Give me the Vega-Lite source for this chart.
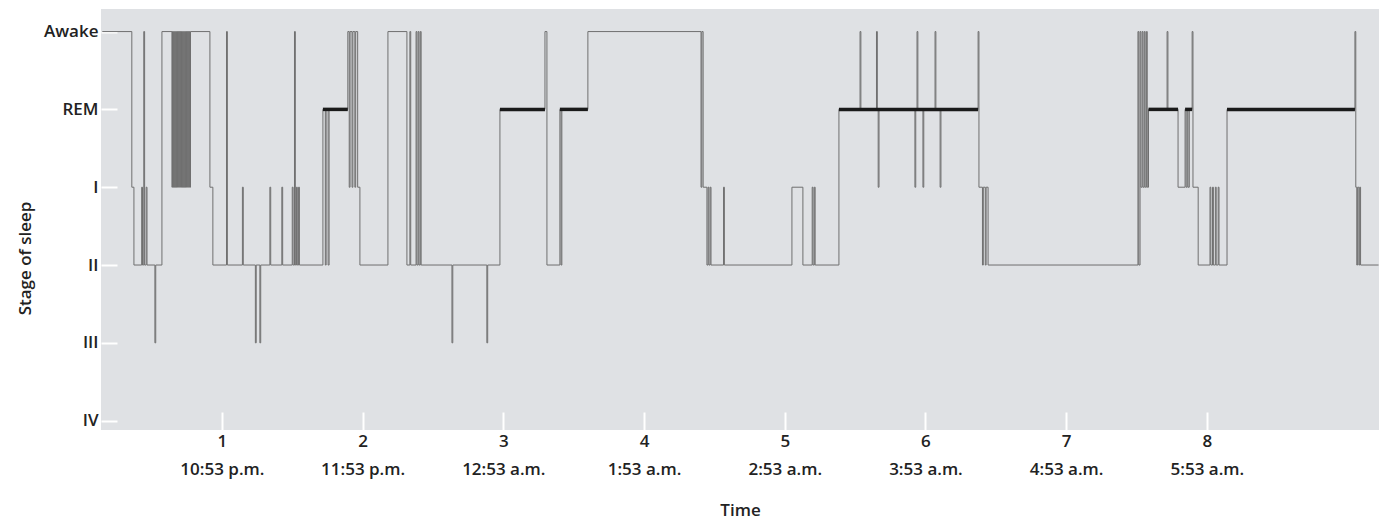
{
  "$schema": "https://vega.github.io/schema/vega-lite/v6.json",
  "width": 1278,
  "height": 421,
  "autosize": {"type": "none"},
  "padding": {"left": 101, "top": 9, "right": 2, "bottom": 91},
  "background": "white",
  "config": {"view": {"fill": "#dfe1e4", "stroke": null}, "font": "Open Sans"},
  "datasets": {
    "hyp": [
      {"t":0.150,"stage":5},{"t":0.360,"stage":3},{"t":0.375,"stage":2},{"t":0.430,"stage":3},{"t":0.436,"stage":2},{"t":0.445,"stage":5},{"t":0.451,"stage":2},{"t":0.462,"stage":3},{"t":0.468,"stage":2},{"t":0.524,"stage":1},{"t":0.530,"stage":2},{"t":0.574,"stage":5},
      {"t":0.645,"stage":3},{"t":0.649,"stage":5},{"t":0.653,"stage":3},{"t":0.657,"stage":5},{"t":0.661,"stage":3},{"t":0.665,"stage":5},{"t":0.669,"stage":3},{"t":0.673,"stage":5},{"t":0.677,"stage":3},{"t":0.681,"stage":5},{"t":0.685,"stage":3},{"t":0.689,"stage":5},{"t":0.693,"stage":3},{"t":0.697,"stage":5},{"t":0.701,"stage":3},{"t":0.705,"stage":5},{"t":0.709,"stage":3},{"t":0.713,"stage":5},{"t":0.717,"stage":3},{"t":0.721,"stage":5},{"t":0.725,"stage":3},{"t":0.729,"stage":5},{"t":0.733,"stage":3},{"t":0.737,"stage":5},{"t":0.741,"stage":3},{"t":0.745,"stage":5},{"t":0.749,"stage":3},{"t":0.753,"stage":5},{"t":0.757,"stage":3},{"t":0.761,"stage":5},{"t":0.765,"stage":3},{"t":0.769,"stage":5},{"t":0.773,"stage":3},{"t":0.777,"stage":5},
      {"t":0.915,"stage":3},{"t":0.936,"stage":2},{"t":1.033,"stage":5},{"t":1.039,"stage":2},{"t":1.146,"stage":3},{"t":1.152,"stage":2},{"t":1.238,"stage":1},{"t":1.244,"stage":2},{"t":1.270,"stage":1},{"t":1.276,"stage":2},{"t":1.341,"stage":3},{"t":1.347,"stage":2},{"t":1.426,"stage":3},{"t":1.432,"stage":2},
      {"t":1.500,"stage":3},{"t":1.506,"stage":2},{"t":1.516,"stage":5},{"t":1.522,"stage":2},{"t":1.530,"stage":3},{"t":1.536,"stage":2},{"t":1.545,"stage":3},{"t":1.551,"stage":2},
      {"t":1.718,"stage":4},{"t":1.735,"stage":2},{"t":1.741,"stage":4},{"t":1.755,"stage":2},{"t":1.762,"stage":4},
      {"t":1.895,"stage":5},{"t":1.905,"stage":3},{"t":1.911,"stage":5},{"t":1.925,"stage":3},{"t":1.931,"stage":5},{"t":1.945,"stage":3},{"t":1.951,"stage":5},{"t":1.965,"stage":3},{"t":1.981,"stage":2},
      {"t":2.180,"stage":5},{"t":2.315,"stage":2},{"t":2.336,"stage":5},{"t":2.342,"stage":2},{"t":2.380,"stage":5},{"t":2.386,"stage":2},{"t":2.395,"stage":5},{"t":2.401,"stage":2},{"t":2.410,"stage":5},{"t":2.416,"stage":2},
      {"t":2.635,"stage":1},{"t":2.641,"stage":2},{"t":2.883,"stage":1},{"t":2.889,"stage":2},{"t":2.976,"stage":4},{"t":3.296,"stage":5},{"t":3.310,"stage":2},{"t":3.402,"stage":4},{"t":3.410,"stage":2},{"t":3.416,"stage":4},{"t":3.601,"stage":5},
      {"t":4.405,"stage":3},{"t":4.411,"stage":5},{"t":4.420,"stage":3},{"t":4.447,"stage":2},{"t":4.455,"stage":3},{"t":4.461,"stage":2},{"t":4.470,"stage":3},{"t":4.476,"stage":2},{"t":4.565,"stage":3},{"t":4.571,"stage":2},
      {"t":5.051,"stage":3},{"t":5.129,"stage":2},{"t":5.195,"stage":3},{"t":5.201,"stage":2},{"t":5.210,"stage":3},{"t":5.216,"stage":2},
      {"t":5.385,"stage":4},{"t":5.535,"stage":5},{"t":5.541,"stage":4},{"t":5.652,"stage":5},{"t":5.658,"stage":4},{"t":5.664,"stage":3},{"t":5.670,"stage":4},{"t":5.925,"stage":3},{"t":5.931,"stage":4},{"t":5.940,"stage":5},{"t":5.946,"stage":4},{"t":5.982,"stage":3},{"t":5.988,"stage":4},{"t":6.068,"stage":5},{"t":6.074,"stage":4},{"t":6.104,"stage":3},{"t":6.110,"stage":4},
      {"t":6.374,"stage":5},{"t":6.380,"stage":3},{"t":6.405,"stage":2},{"t":6.411,"stage":3},{"t":6.425,"stage":2},{"t":6.431,"stage":3},{"t":6.445,"stage":2},
      {"t":7.510,"stage":5},{"t":7.516,"stage":2},{"t":7.525,"stage":5},{"t":7.531,"stage":3},{"t":7.540,"stage":5},{"t":7.546,"stage":3},{"t":7.555,"stage":5},{"t":7.561,"stage":3},{"t":7.570,"stage":5},{"t":7.576,"stage":3},{"t":7.585,"stage":4},
      {"t":7.717,"stage":5},{"t":7.723,"stage":4},{"t":7.795,"stage":3},{"t":7.845,"stage":4},{"t":7.852,"stage":3},{"t":7.860,"stage":4},{"t":7.866,"stage":3},{"t":7.875,"stage":4},{"t":7.895,"stage":5},{"t":7.901,"stage":3},{"t":7.938,"stage":2},
      {"t":8.022,"stage":3},{"t":8.028,"stage":2},{"t":8.040,"stage":3},{"t":8.046,"stage":2},{"t":8.060,"stage":3},{"t":8.066,"stage":2},{"t":8.080,"stage":3},{"t":8.086,"stage":2},
      {"t":8.143,"stage":4},{"t":9.052,"stage":5},{"t":9.058,"stage":3},{"t":9.065,"stage":2},{"t":9.071,"stage":3},{"t":9.080,"stage":2},{"t":9.086,"stage":3},{"t":9.092,"stage":2},{"t":9.220,"stage":2}
    ],
    "rem": [
      {"start":1.718,"end":1.895},
      {"start":2.976,"end":3.296},
      {"start":3.402,"end":3.601},
      {"start":5.385,"end":6.374},
      {"start":7.585,"end":7.795},
      {"start":7.845,"end":7.895},
      {"start":8.143,"end":9.052}
    ]
  },
  "layer": [
    {
      "data": {"name": "hyp"},
      "mark": {"type": "line", "interpolate": "step-after", "color": "#6f6f6f", "strokeWidth": 1, "clip": true},
      "encoding": {
        "x": {
          "field": "t", "type": "quantitative",
          "scale": {"domain": [0.141, 9.223], "nice": false, "zero": false},
          "axis": {
            "values": [1,2,3,4,5,6,7,8],
            "labelExpr": "[datum.value, ['10:53 p.m.','11:53 p.m.','12:53 a.m.','1:53 a.m.','2:53 a.m.','3:53 a.m.','4:53 a.m.','5:53 a.m.'][datum.value-1]]",
            "domain": false, "grid": false,
            "tickColor": "white", "tickWidth": 2, "tickSize": -18,
            "labelPadding": 21, "labelFontSize": 17, "labelFontWeight": 600, "labelColor": "#222222",
            "labelLineHeight": 28, "labelFlush": false, "labelOverlap": false,
            "title": "Time", "titleFontSize": 17, "titleFontWeight": 600, "titleColor": "#222222",
            "titleY": 80, "titleBaseline": "middle"
          }
        },
        "y": {
          "field": "stage", "type": "quantitative",
          "scale": {"domain": [-0.12, 5.29], "nice": false, "zero": false},
          "axis": {
            "values": [0,1,2,3,4,5],
            "labelExpr": "['IV','III','II','I','REM','Awake'][datum.value]",
            "domain": false, "grid": false,
            "tickColor": "white", "tickWidth": 2, "tickSize": -16,
            "labelPadding": 19, "labelFontSize": 17, "labelFontWeight": 600, "labelColor": "#222222",
            "title": "Stage of sleep", "titleFontSize": 17, "titleFontWeight": 600, "titleColor": "#222222",
            "titleX": -76, "titleY": 249, "titleAngle": -90, "titleAlign": "center", "titleBaseline": "middle"
          }
        }
      }
    },
    {
      "data": {"name": "rem"},
      "mark": {"type": "rule", "color": "#1a1a1a", "strokeWidth": 3.5},
      "encoding": {
        "x": {"field": "start", "type": "quantitative"},
        "x2": {"field": "end"},
        "y": {"datum": 4}
      }
    }
  ]
}
